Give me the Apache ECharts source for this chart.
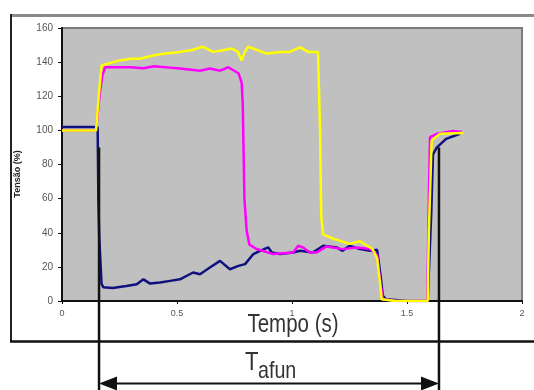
<!DOCTYPE html>
<html>
<head>
<meta charset="utf-8">
<script src="https://cdn.jsdelivr.net/npm/echarts@6/dist/echarts.min.js"></script>
<style>
  html, body { margin: 0; padding: 0; background: #fff; }
  #chart { width: 534px; height: 390px; }
</style>
</head>
<body>
<div id="chart"></div>
<script>
// tensao (%) vs tempo (s), tres fases
var tBlue = [0, 0.155, 0.158, 0.162, 0.168, 0.172, 0.18, 0.22, 0.28, 0.325, 0.354, 0.383, 0.426, 0.47, 0.513,
  0.57, 0.6, 0.643, 0.687, 0.73, 0.767, 0.796, 0.832, 0.861, 0.897, 0.912, 0.948, 1.005, 1.035, 1.09,
  1.136, 1.194, 1.22, 1.25, 1.296, 1.34, 1.37, 1.385, 1.395, 1.41, 1.5, 1.59, 1.605, 1.613, 1.63, 1.67, 1.73];
var vBlue = [102, 102, 60, 37, 36, 10, 8, 7.6, 8.8, 9.8, 12.7, 10.2, 10.8, 11.8, 12.7,
  16.7, 15.7, 19.6, 23.5, 18.6, 20.6, 21.6, 27.5, 29.4, 31.4, 28.4, 27.5, 28.4, 29.4, 28.4,
  32.4, 31.4, 29.4, 32.4, 30.4, 29.4, 30, 15, 3, 1, 0, 0, 50, 86, 90, 95, 98];

var tYellow = [0, 0.148, 0.155, 0.165, 0.172, 0.18, 0.25, 0.3, 0.34, 0.4, 0.45, 0.513, 0.56, 0.613, 0.657,
  0.7, 0.738, 0.765, 0.781, 0.795, 0.809, 0.85, 0.89, 0.948, 0.99, 1.035, 1.07, 1.113, 1.119, 1.122,
  1.127, 1.135, 1.18, 1.25, 1.296, 1.35, 1.37, 1.385, 1.39, 1.45, 1.59, 1.595, 1.607, 1.643, 1.745];
var vYellow = [100, 100, 112, 128, 138, 139, 141, 142, 142, 144, 145, 146, 147, 149, 146,
  147, 148, 146, 141, 146, 149, 147, 145, 146, 146, 148.6, 146, 146, 146, 100,
  50, 39, 36.5, 33.5, 35, 30.5, 25, 8, 1, 0, 0, 40, 94, 98, 98.4];

var tMagenta = [0, 0.148, 0.155, 0.165, 0.175, 0.187, 0.194, 0.3, 0.353, 0.4, 0.513, 0.6, 0.643, 0.687, 0.723,
  0.767, 0.781, 0.786, 0.793, 0.803, 0.815, 0.846, 0.918, 1.005, 1.027, 1.048, 1.078, 1.107, 1.15, 1.22,
  1.28, 1.34, 1.37, 1.385, 1.395, 1.45, 1.588, 1.595, 1.6, 1.63, 1.7, 1.74];
var vMagenta = [100, 100, 110, 122, 132, 137, 137.6, 137, 136.4, 137.6, 136.3, 135, 136.3, 135, 137,
  133.5, 128, 115, 60, 41, 33, 30.5, 27.5, 28.4, 32.4, 31.4, 28.4, 28.4, 32, 30.4,
  31.4, 30.5, 27, 10, 1, 0, 0, 60, 96, 98, 99.6, 99];

// T afun: inicio e fim
var tStart = 0.161;
var tEnd = 1.639;
var markTop = 90;

function pairs(t, v) {
  return t.map(function (x, i) { return [x, v[i]]; });
}

var chart = echarts.init(document.getElementById('chart'));
var sans = "'Liberation Sans', Arial, sans-serif";

chart.setOption({
  animation: false,
  grid: {
    left: 62, right: 12, top: 28, bottom: 89,
    show: true, backgroundColor: '#c0c0c0', borderColor: '#7c7c7c', borderWidth: 2
  },
  xAxis: {
    type: 'value', min: 0, max: 2, interval: 0.5,
    axisLine: { show: true, onZero: false, lineStyle: { color: '#111', width: 2 } },
    axisTick: { show: true, length: 3, lineStyle: { color: '#111' } },
    axisLabel: { fontFamily: sans, fontSize: 9, color: '#555', margin: 8,
      formatter: function (v) { return String(v); } },
    splitLine: { show: false }
  },
  yAxis: {
    type: 'value', min: 0, max: 160, interval: 20,
    axisLine: { show: true, lineStyle: { color: '#111', width: 2 } },
    axisTick: { show: true, length: 4, lineStyle: { color: '#111' } },
    axisLabel: { fontFamily: sans, fontSize: 10, color: '#555', margin: 9 },
    splitLine: { show: false }
  },
  series: [
    { type: 'line', data: pairs(tBlue, vBlue), showSymbol: false, z: 3,
      lineStyle: { color: '#10107e', width: 2.5 } },
    { type: 'line', data: pairs(tMagenta, vMagenta), showSymbol: false, z: 4,
      lineStyle: { color: '#ff00ff', width: 2.5 } },
    { type: 'line', data: pairs(tYellow, vYellow), showSymbol: false, z: 5,
      lineStyle: { color: '#ffff00', width: 2.5 } }
  ]
});

var xs = chart.convertToPixel({ xAxisIndex: 0 }, tStart);
var xe = chart.convertToPixel({ xAxisIndex: 0 }, tEnd);
var yTop = chart.convertToPixel({ yAxisIndex: 0 }, markTop);
var yArrow = 383.5;

chart.setOption({
  graphic: [
    // moldura
    { type: 'line', shape: { x1: 11, y1: 15.5, x2: 534, y2: 15.5 }, style: { stroke: '#8a8a8a', lineWidth: 3 }, z: 100 },
    { type: 'line', shape: { x1: 11, y1: 14, x2: 11, y2: 342 }, style: { stroke: '#222', lineWidth: 2 }, z: 100 },
    { type: 'line', shape: { x1: 10, y1: 341.5, x2: 534, y2: 341.5 }, style: { stroke: '#111', lineWidth: 2.5 }, z: 100 },
    { type: 'text', x: 18, y: 174, rotation: Math.PI / 2,
      style: { text: 'Tensão (%)', font: "bold 9px " + sans, fill: '#222',
        align: 'center', verticalAlign: 'middle' }, z: 100 },
    { type: 'text', x: 293, y: 325, scaleX: 0.82,
      style: { text: 'Tempo (s)', font: "25px " + sans, fill: '#333',
        align: 'center', verticalAlign: 'middle' }, z: 100 },
    // linhas de marcacao
    { type: 'line', shape: { x1: xs, y1: yTop, x2: xs, y2: 390 }, style: { stroke: '#111', lineWidth: 2.5 }, z: 100 },
    { type: 'line', shape: { x1: xe, y1: yTop, x2: xe, y2: 390 }, style: { stroke: '#111', lineWidth: 2.5 }, z: 100 },
    { type: 'line', shape: { x1: xs + 10, y1: yArrow, x2: xe - 10, y2: yArrow }, style: { stroke: '#111', lineWidth: 2 }, z: 100 },
    { type: 'polygon', shape: { points: [[xs, yArrow], [xs + 18, yArrow - 7], [xs + 18, yArrow + 7]] }, style: { fill: '#111' }, z: 100 },
    { type: 'polygon', shape: { points: [[xe, yArrow], [xe - 18, yArrow - 7], [xe - 18, yArrow + 7]] }, style: { fill: '#111' }, z: 100 },
    { type: 'text', x: 245, y: 363, scaleX: 0.85,
      style: { text: 'T', font: "26px " + sans, fill: '#333', verticalAlign: 'middle' }, z: 100 },
    { type: 'text', x: 258, y: 371, scaleX: 0.82,
      style: { text: 'afun', font: "24px " + sans, fill: '#333', verticalAlign: 'middle' }, z: 100 }
  ]
});
</script>
</body>
</html>
